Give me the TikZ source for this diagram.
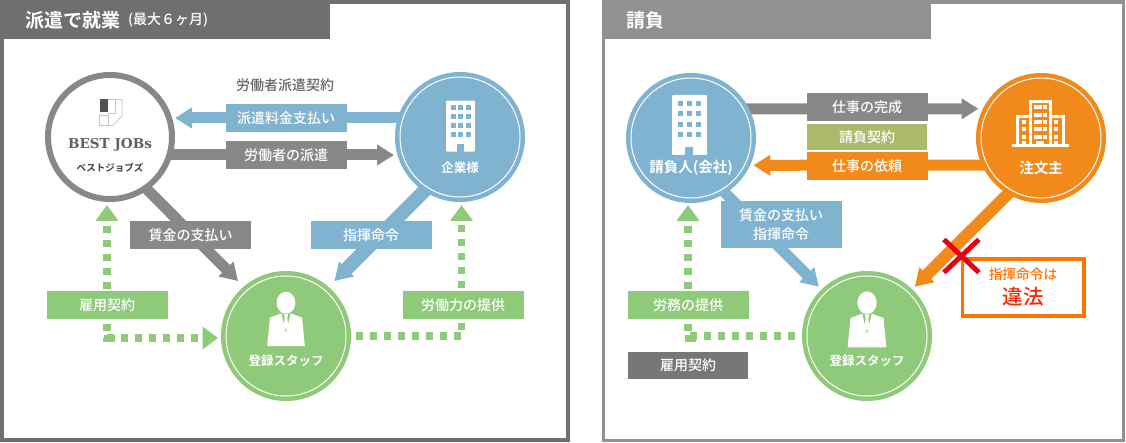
\documentclass[tikz,border=0pt]{standalone}
\usepackage{fontspec}
\setmainfont{Noto Sans CJK JP Medium}[BoldFont={Noto Sans CJK JP Bold}]
\newfontfamily\slabfont{DejaVu Serif}
\usetikzlibrary{arrows.meta, backgrounds}

\definecolor{flowblue}{HTML}{7FB3D0}
\definecolor{flowgreen}{HTML}{8FC97A}
\definecolor{flowgrey}{HTML}{888888}
\definecolor{floworange}{HTML}{F18A1B}
\definecolor{flowolive}{HTML}{ABB96C}
\definecolor{darkgrey}{HTML}{777777}
\definecolor{framedark}{HTML}{6F6F6F}
\definecolor{framelight}{HTML}{919191}
\definecolor{banred}{HTML}{E60012}

\newcommand{\sz}[1]{\fontsize{#1}{19}\selectfont}

\tikzset{
  party/.style={circle,minimum size=130pt,inner sep=0pt},
  tag/.style={fill=#1,text=white,minimum width=121pt,minimum height=28pt,inner sep=0pt,
    font=\sz{14},align=center},
  flow/.style={line width=11pt,-{Triangle[length=17pt,width=20pt]}},
  dotted flow/.style={line width=7.4pt,flowgreen,dash pattern=on 7.3pt off 6.7pt},
  cap title/.style={text=white,font=\sz{12.5}\bfseries,inner sep=0pt},
  logoline/.style={draw=black!22,line width=.7pt},
  staffman/.pic={
    \fill[white] (0,.2) ellipse (9.4 and 11);
    \fill[white] (-18.8,43.5) -- (-16,15) -- (-4.2,10.8) -- (4.2,10.8)
      -- (16,15) -- (18.8,43.5) -- cycle;
    \fill[flowgreen] (-4.5,11) -- (4.5,11) -- (0,30.5) -- cycle;
    \fill[white] (-2,11.5) -- (2,11.5) -- (1.3,15.5) -- (2.2,23.5) -- (0,27.5)
      -- (-2.2,23.5) -- (-1.3,15.5) -- cycle;
  }
}

\begin{document}
\begin{tikzpicture}[x=1pt,y=-1pt]
  \useasboundingbox (0,0) rectangle (1126,443);

  % left panel
  \node[party,draw=flowgrey,line width=6pt,fill=white,minimum size=124pt] (best) at (110,137) {};
  \node[party,fill=flowblue] (kigyo) at (460,137) {};
  \node[party,fill=flowgreen] (stafa) at (286,336) {};
  \draw[white,line width=1pt] (kigyo) circle (60);
  \draw[white,line width=1pt] (stafa) circle (60);

  \fill[framedark] (0,0) rectangle (330,39);
  \node[anchor=west,text=white,font=\sz{19}\bfseries,inner sep=0pt] (titlea) at (25,20) {派遣で就業};
  \node[anchor=west,text=white,font=\sz{14},inner sep=0pt] (subtitle) at (128,20) {(最大６ヶ月)};

  % logo
  \fill[black!68] (99.5,99.5) rectangle (108,112.5);
  \draw[logoline] (99.5,115) rectangle (108,125.5);
  \draw[logoline] (108,99.5) -- (122,99.5) -- (122,116) -- (113,125.5) -- (108,125.5);
  \draw[logoline] (108,113.5) -- (115,113.5) -- (115,99.5);
  \node[text=black!62,font=\slabfont\bfseries\sz{13.6}] (bestname) at (110,145) {BEST JOBs};
  \node[text=black!75,font=\sz{9.5}\bfseries] (bestkana) at (110,168) {ベストジョブズ};

  % office
  \fill[white,rounded corners=1pt] (446,100.7) rectangle (475,151.7);
  \foreach \wx in {450.7,458.3,466} \foreach \wy in {105,114,122.7,131.7}
    \fill[flowblue] (\wx,\wy) rectangle ++(5,5);
  \fill[flowblue] (457,144) rectangle (464,152);
  \node[cap title] (kigyoname) at (460,168) {企業様};

  \pic at (286,302.5) {staffman};
  \node[cap title] (stafaname) at (286,361) {登録スタッフ};

  \node[text=black!60,font=\sz{14},inner sep=0pt] (keiyaku) at (285,85) {労働者派遣契約};
  \node[tag=flowblue] (fee) at (286,118) {派遣料金支払い};
  \node[tag=flowgrey] (dispatch) at (286,155) {労働者の派遣};
  \node[tag=flowgrey] (wage) at (190.5,235) {賃金の支払い};
  \node[tag=flowblue] (order) at (371,235) {指揮命令};
  \node[tag=flowgreen] (koyoa) at (107,305) {雇用契約};
  \node[tag=flowgreen] (labor) at (463,305) {労働力の提供};

  \coordinate (feetip) at (175,118);
  \coordinate (dispatchtip) at (394,155);
  \coordinate (wagetip) at (238,281);
  \coordinate (ordertip) at (334.5,281);
  \coordinate (koyotip) at (107,205);
  \coordinate (koyoend) at (218,338);
  \coordinate (labortip) at (461.5,205);

  % right panel
  \node[party,fill=flowblue] (uke) at (691,138) {};
  \node[party,fill=floworange] (chumon) at (1041,138) {};
  \node[party,fill=flowgreen] (stafb) at (867,336) {};
  \draw[white,line width=1pt] (uke) circle (60);
  \draw[white,line width=1pt] (chumon) circle (60);
  \draw[white,line width=1pt] (stafb) circle (60);

  \fill[framelight] (602,0) rectangle (931,39);
  \node[anchor=west,text=white,font=\sz{19}\bfseries,inner sep=0pt] (titleb) at (626,20) {請負};

  % contractor office
  \fill[white,rounded corners=1pt] (672,95) rectangle (707,155);
  \foreach \wx in {678,686.7,695.5} \foreach \wy in {101,111,121.7,132}
    \fill[flowblue] (\wx,\wy) rectangle ++(5,5);
  \fill[flowblue] (685,146.7) rectangle (693,155);
  \node[cap title,font=\sz{14.5}\bfseries] (ukename) at (691,168) {請負人(会社)};

  % client towers
  \draw[white,line width=3pt] (1017.5,145) |- (1029.5,116.5);
  \draw[white,line width=3pt] (1063.5,145) |- (1051,116.5);
  \draw[white,line width=3pt] (1030.5,145) |- (1050.5,101.5) -- (1050.5,145);
  \fill[white] (1011.7,143.7) rectangle (1069,146.9);
  \fill[white] (1036,141.3) rectangle (1044.3,144);
  \foreach \wx in {1033.8,1038.3,1042.8} \foreach \wy in {105.3,112.7,120,127.3,134.7}
    \fill[white] (\wx,\wy) rectangle ++(3.7,4);
  \foreach \wx in {1022.3,1054.3} \foreach \wy in {120,127.3,134.7}
    \fill[white] (\wx,\wy) rectangle ++(3.7,4);
  \foreach \wx in {1022.3,1054.3}
    \fill[white] (\wx,141) rectangle ++(3.7,3);
  \node[cap title,font=\sz{14.5}\bfseries] (chumonname) at (1041,168) {注文主};

  \pic[scale=1.03] at (867,302.5) {staffman};
  \node[cap title] (stafbname) at (867,361) {登録スタッフ};

  \node[tag=flowgrey] (complete) at (867,107) {仕事の完成};
  \node[tag=flowolive,minimum width=120pt,minimum height=26pt] (ukekeiyaku) at (867,137) {請負契約};
  \node[tag=floworange,minimum height=27.5pt] (request) at (867,166) {仕事の依頼};
  \node[tag=flowblue,minimum height=46.7pt] (wageorder) at (781,224.3) {賃金の支払い\\指揮命令};
  \node[tag=flowgreen] (service) at (688,305) {労務の提供};
  \node[tag=darkgrey,minimum width=119.6pt,minimum height=26.7pt] (koyob) at (688,365.7) {雇用契約};

  \coordinate (completetip) at (978.5,108.8);
  \coordinate (requesttip) at (753.4,165.3);
  \coordinate (wageordertip) at (818.8,286.7);
  \coordinate (bantip) at (914.8,286.7);
  \coordinate (servicetip) at (688,205);

  % illegal note
  \node[draw=orange!90!red,line width=3.5pt,fill=white,minimum width=121.5pt,minimum height=57pt,
    inner sep=0pt] (illegal) at (1023.2,287.5) {};
  \node[text=orange!90!red,font=\sz{13.7},inner sep=0pt] (illegaltop) at (1023,274) {指揮命令は};
  \node[text=red!70!orange,font=\sz{20.5},inner sep=0pt] (illegalword) at (1023,297) {違法};
  \coordinate (bancross) at (961.4,256);
  \draw[banred,line width=5pt] ([xshift=-17.5pt,yshift=16.5pt]bancross) -- ([xshift=17.5pt,yshift=-16.5pt]bancross);
  \draw[banred,line width=5pt] ([xshift=-17.5pt,yshift=-16.5pt]bancross) -- ([xshift=17.5pt,yshift=16.5pt]bancross);

  \begin{scope}[on background layer]
    \draw[framedark,line width=4pt] (2,2) rectangle (568,440);
    \draw[framelight,line width=3.5pt] (603.7,2) rectangle (1123.3,440.7);
    % left flows
    \draw[flow,flowblue] ([yshift=19pt]kigyo.center) -- (feetip);
    \draw[flow,flowgrey] ([yshift=-18pt]best.center) -- (dispatchtip);
    \draw[flow,flowgrey] ([xshift=-2pt,yshift=-13pt]best.center) -- (wagetip);
    \draw[flow,flowblue,line width=14pt] ([yshift=-18pt]kigyo.center) -- (ordertip);
    \draw[dotted flow,dash phase=8.3pt,
      {Triangle[length=16pt,width=22pt]}-{Triangle[length=15.5pt,width=22pt]}] (koyotip) |- (koyoend);
    \draw[dotted flow,dash phase=.4pt,-{Triangle[length=16pt,width=22pt]}] (stafa.center) -| (labortip);
    \fill[flowgreen] (103.5,334.5) rectangle (115,341.5);
    % right flows
    \draw[flow,flowgrey] ([yshift=29pt]uke.center) -- (completetip);
    \draw[flow,floworange] ([yshift=-27pt]chumon.center) -- (requesttip);
    \draw[flow,flowblue] ([xshift=-2pt,yshift=-19pt]uke.center) -- (wageordertip);
    \draw[flow,floworange,line width=12pt] ([xshift=4pt,yshift=-19pt]chumon.center) -- (bantip);
    \draw[dotted flow,dash phase=8.3pt,{Triangle[length=16pt,width=22pt]}-] (servicetip) |- (stafb.center);
    \fill[flowgreen] (684.5,334.5) rectangle (696,341.5);
  \end{scope}
\end{tikzpicture}
\end{document}
